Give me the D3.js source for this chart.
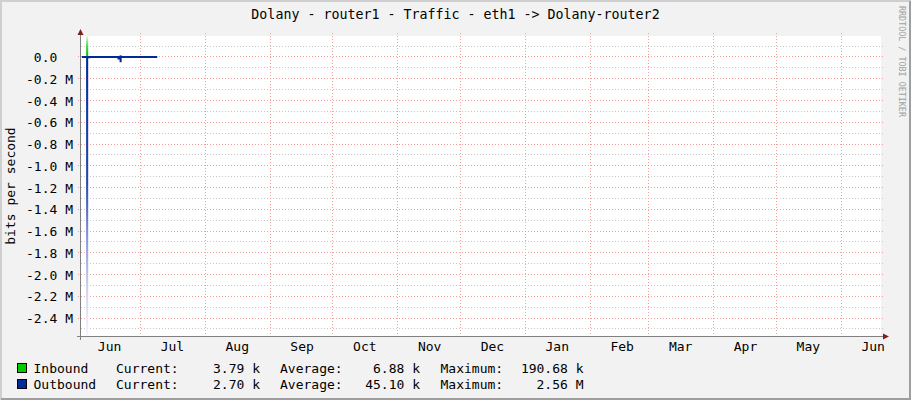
<!DOCTYPE html>
<html>
<head>
<meta charset="utf-8">
<script src="https://cdn.jsdelivr.net/npm/d3@7"></script>
<style>
  html, body { margin: 0; padding: 0; background: #f2f2f2; }
  svg { display: block; font-family: 'DejaVu Sans Mono', monospace; }
</style>
</head>
<body>
<svg id="chart"></svg>
<script>
// daily samples (UTC), each value covers [day, next day]
const dates = [
  '2012-06-03', '2012-06-04', '2012-06-05', '2012-06-06', '2012-06-07', '2012-06-08',
  '2012-06-09', '2012-06-10', '2012-06-11', '2012-06-12', '2012-06-13', '2012-06-14',
  '2012-06-15', '2012-06-16', '2012-06-17', '2012-06-18', '2012-06-19', '2012-06-20',
  '2012-06-21', '2012-06-22', '2012-06-23', '2012-06-24', '2012-06-25', '2012-06-26',
  '2012-06-27', '2012-06-28', '2012-06-29', '2012-06-30', '2012-07-01', '2012-07-02',
  '2012-07-03', '2012-07-04', '2012-07-05', '2012-07-06', '2012-07-07', '2012-07-08'
];
const endDate = '2012-07-09';

// bits per second
const inbound = [
  4200, 5100, 190680, 7400, 4500, 3900,
  4100, 3600, 4800, 4300, 3800, 4000,
  4400, 3500, 3700, 4600, 5200, 9000,
  18500, 4700, 3900, 3600, 4100, 4500,
  3800, 4000, 4200, 3700, 3600, 4400,
  4100, 3900, 3800, 4000, 3700, 3790
];
const outbound = [
  3100, 3500, 2560000, 11000, 9000, 2900,
  3200, 2800, 3400, 3000, 2700, 2900,
  3300, 2600, 2800, 3500, 3900, 24000,
  48000, 3600, 3000, 2700, 2900, 3100,
  2800, 3000, 3200, 2700, 2600, 3300,
  3000, 2900, 2800, 3000, 2800, 2700
];

const timeStart = '2012-06-02T13:30:00Z';
const timeEnd = '2013-06-20T00:00:00Z';

const yMajor = [0, -0.2e6, -0.4e6, -0.6e6, -0.8e6, -1.0e6, -1.2e6, -1.4e6, -1.6e6, -1.8e6, -2.0e6, -2.2e6, -2.4e6];
const yMajorLabels = ['0.0  ', '-0.2 M', '-0.4 M', '-0.6 M', '-0.8 M', '-1.0 M', '-1.2 M', '-1.4 M', '-1.6 M', '-1.8 M', '-2.0 M', '-2.2 M', '-2.4 M'];
const yMinor = [0.1e6, -0.1e6, -0.3e6, -0.5e6, -0.7e6, -0.9e6, -1.1e6, -1.3e6, -1.5e6, -1.7e6, -1.9e6, -2.1e6, -2.3e6, -2.5e6];

const monthStarts = ['2012-07-01', '2012-08-01', '2012-09-01', '2012-10-01', '2012-11-01', '2012-12-01',
  '2013-01-01', '2013-02-01', '2013-03-01', '2013-04-01', '2013-05-01', '2013-06-01'];
const monthLabelDates = ['2012-06-16', '2012-07-16', '2012-08-16', '2012-09-16', '2012-10-16', '2012-11-16',
  '2012-12-16', '2013-01-16', '2013-02-16', '2013-03-16', '2013-04-16', '2013-05-16', '2013-06-16'];
const monthLabels = ['Jun', 'Jul', 'Aug', 'Sep', 'Oct', 'Nov', 'Dec', 'Jan', 'Feb', 'Mar', 'Apr', 'May', 'Jun'];

const legendNames = ['Inbound', 'Outbound'];
const legendCurrent = ['3.79 k', '2.70 k'];
const legendAverage = ['6.88 k', '45.10 k'];
const legendMaximum = ['190.68 k', '2.56 M'];

const title = 'Dolany - router1 - Traffic - eth1 -> Dolany-router2';
const yTitle = 'bits per second';
const watermark = 'RRDTOOL / TOBI OETIKER';

const colIn = '#00cc00';
const colOut = '#002a97';

const width = 911, height = 400;
const plot = { left: 81, right: 881, top: 36, bottom: 336 };

const svg = d3.select('#chart')
  .attr('width', width)
  .attr('height', height);

// background + 3d frame
svg.append('rect').attr('width', width).attr('height', height).attr('fill', '#f2f2f2');
svg.append('path').attr('d', `M1,${height} V1 H${width}`).attr('stroke', '#cfcfcf').attr('stroke-width', 2).attr('fill', 'none');
svg.append('path').attr('d', `M1,${height - 1} H${width - 1} V1`).attr('stroke', '#9e9e9e').attr('stroke-width', 2).attr('fill', 'none');

svg.append('rect')
  .attr('x', plot.left).attr('y', plot.top)
  .attr('width', plot.right - plot.left).attr('height', plot.bottom - plot.top)
  .attr('fill', '#ffffff');

const x = d3.scaleUtc()
  .domain([new Date(timeStart), new Date(timeEnd)])
  .range([plot.left, plot.right]);

const y = d3.scaleLinear()
  .domain([-2.5655e6, 0.1931e6])
  .range([plot.bottom, plot.top]);

const crisp = (v) => Math.floor(v) + 0.5;

// grid
const grid = svg.append('g').attr('stroke-width', 1).attr('fill', 'none');

grid.selectAll('.minor')
  .data(yMinor)
  .join('line')
  .attr('x1', plot.left).attr('x2', plot.right + 2)
  .attr('y1', (d) => crisp(y(d))).attr('y2', (d) => crisp(y(d)))
  .attr('stroke', '#c8c8c8')
  .attr('stroke-dasharray', '1,2');

grid.selectAll('.majorh')
  .data(yMajor)
  .join('line')
  .attr('x1', plot.left - 3).attr('x2', plot.right + 2)
  .attr('y1', (d) => crisp(y(d))).attr('y2', (d) => crisp(y(d)))
  .attr('stroke', '#f2a0a0')
  .attr('stroke-dasharray', '1,2');

grid.selectAll('.majorv')
  .data(monthStarts.map((d) => new Date(d)))
  .join('line')
  .attr('x1', (d) => crisp(x(d))).attr('x2', (d) => crisp(x(d)))
  .attr('y1', plot.top - 3).attr('y2', plot.bottom + 3)
  .attr('stroke', '#f2a0a0')
  .attr('stroke-dasharray', '1,2');

// data
const points = dates.map((d, i) => ({ t: new Date(d), inb: inbound[i], out: outbound[i] }));
points.push({ t: new Date(endDate), inb: inbound[inbound.length - 1], out: outbound[outbound.length - 1] });

const defs = svg.append('defs');
defs.append('clipPath').attr('id', 'clip')
  .append('rect')
  .attr('x', plot.left).attr('y', plot.top)
  .attr('width', plot.right - plot.left).attr('height', plot.bottom - plot.top);

const gIn = defs.append('linearGradient').attr('id', 'gradIn')
  .attr('gradientUnits', 'userSpaceOnUse')
  .attr('x1', 0).attr('x2', 0).attr('y1', y(0)).attr('y2', plot.top);
gIn.append('stop').attr('offset', 0).attr('stop-color', '#00c000');
gIn.append('stop').attr('offset', 0.5).attr('stop-color', '#40d840');
gIn.append('stop').attr('offset', 1).attr('stop-color', '#e6f8e6');

const gOut = defs.append('linearGradient').attr('id', 'gradOut')
  .attr('gradientUnits', 'userSpaceOnUse')
  .attr('x1', 0).attr('x2', 0).attr('y1', y(0)).attr('y2', plot.bottom);
gOut.append('stop').attr('offset', 0).attr('stop-color', colOut);
gOut.append('stop').attr('offset', 0.45).attr('stop-color', '#2a4aae');
gOut.append('stop').attr('offset', 0.65).attr('stop-color', '#8899d4');
gOut.append('stop').attr('offset', 0.85).attr('stop-color', '#d0d8f0');
gOut.append('stop').attr('offset', 1).attr('stop-color', '#f5f7fc');

const areaIn = d3.area()
  .curve(d3.curveStepAfter)
  .x((d) => x(d.t))
  .y0(y(0))
  .y1((d) => y(d.inb));

const areaOut = d3.area()
  .curve(d3.curveStepAfter)
  .x((d) => x(d.t))
  .y0(y(0))
  .y1((d) => y(-d.out));

const dataG = svg.append('g').attr('clip-path', 'url(#clip)');
dataG.append('path').datum(points).attr('d', areaIn).attr('fill', 'url(#gradIn)');
dataG.append('path').datum(points).attr('d', areaOut).attr('fill', 'url(#gradOut)');

// zero line over the data range
dataG.append('line')
  .attr('x1', x(points[0].t)).attr('x2', x(points[points.length - 1].t))
  .attr('y1', y(0)).attr('y2', y(0))
  .attr('stroke', colOut)
  .attr('stroke-width', 2);

// axes lines + arrows
const axisCol = '#808080';
const arrowCol = '#7f1f1f';
svg.append('line')
  .attr('x1', plot.left - 0.5).attr('x2', plot.left - 0.5)
  .attr('y1', plot.top - 2).attr('y2', plot.bottom + 4)
  .attr('stroke', axisCol);
svg.append('line')
  .attr('x1', plot.left - 4).attr('x2', plot.right + 2)
  .attr('y1', plot.bottom + 0.5).attr('y2', plot.bottom + 0.5)
  .attr('stroke', axisCol);
svg.append('path')
  .attr('d', `M${plot.left - 0.5},${plot.top - 7} L${plot.left - 3.5},${plot.top - 1} L${plot.left + 2.5},${plot.top - 1} Z`)
  .attr('fill', arrowCol);
svg.append('path')
  .attr('d', `M${plot.right + 8},${plot.bottom + 0.5} L${plot.right + 2},${plot.bottom - 2.5} L${plot.right + 2},${plot.bottom + 3.5} Z`)
  .attr('fill', arrowCol);

// tick labels via d3 axes
const yAxis = (g) => g
  .attr('transform', `translate(73,0)`)
  .call(d3.axisLeft(y)
    .tickValues(yMajor)
    .tickFormat((d, i) => yMajorLabels[i])
    .tickSize(0)
    .tickPadding(0))
  .call((g) => g.select('.domain').remove())
  .attr('font-family', null)
  .attr('font-size', 13)
  .call((g) => g.selectAll('text').attr('fill', '#000').attr('xml:space', 'preserve').attr('dy', '0.36em'));

const xAxis = (g) => g
  .attr('transform', `translate(0,${plot.bottom})`)
  .call(d3.axisBottom(x)
    .tickValues(monthLabelDates.map((d) => new Date(d)))
    .tickFormat((d, i) => monthLabels[i])
    .tickSize(0)
    .tickPadding(5.8))
  .call((g) => g.select('.domain').remove())
  .attr('font-family', null)
  .attr('font-size', 13)
  .call((g) => g.selectAll('text').attr('fill', '#000'));

svg.append('g').call(yAxis);
svg.append('g').call(xAxis);

// titles
svg.append('text')
  .attr('x', 455.5).attr('y', 19)
  .attr('text-anchor', 'middle')
  .attr('font-size', 13.3)
  .text(title);

svg.append('text')
  .attr('transform', 'translate(15,186) rotate(-90)')
  .attr('text-anchor', 'middle')
  .attr('font-size', 13)
  .text(yTitle);

svg.append('text')
  .attr('transform', 'translate(899,6) rotate(90)')
  .attr('font-size', 8.4)
  .attr('fill', '#a0a0a0')
  .text(watermark);

// legend
const legendRows = [373, 389];
const legend = svg.append('g').attr('font-size', 13);
legendNames.forEach((name, i) => {
  const by = legendRows[i];
  legend.append('rect')
    .attr('x', 17.5).attr('y', by - 9.5)
    .attr('width', 9).attr('height', 9)
    .attr('fill', i === 0 ? colIn : colOut)
    .attr('stroke', '#000');
  legend.append('text').attr('x', 33.5).attr('y', by).text(name);
  legend.append('text').attr('x', 116).attr('y', by).text('Current:');
  legend.append('text').attr('x', 260).attr('y', by).attr('text-anchor', 'end').text(legendCurrent[i]);
  legend.append('text').attr('x', 280).attr('y', by).text('Average:');
  legend.append('text').attr('x', 420).attr('y', by).attr('text-anchor', 'end').text(legendAverage[i]);
  legend.append('text').attr('x', 440.5).attr('y', by).text('Maximum:');
  legend.append('text').attr('x', 583.5).attr('y', by).attr('text-anchor', 'end').text(legendMaximum[i]);
});
</script>
</body>
</html>
